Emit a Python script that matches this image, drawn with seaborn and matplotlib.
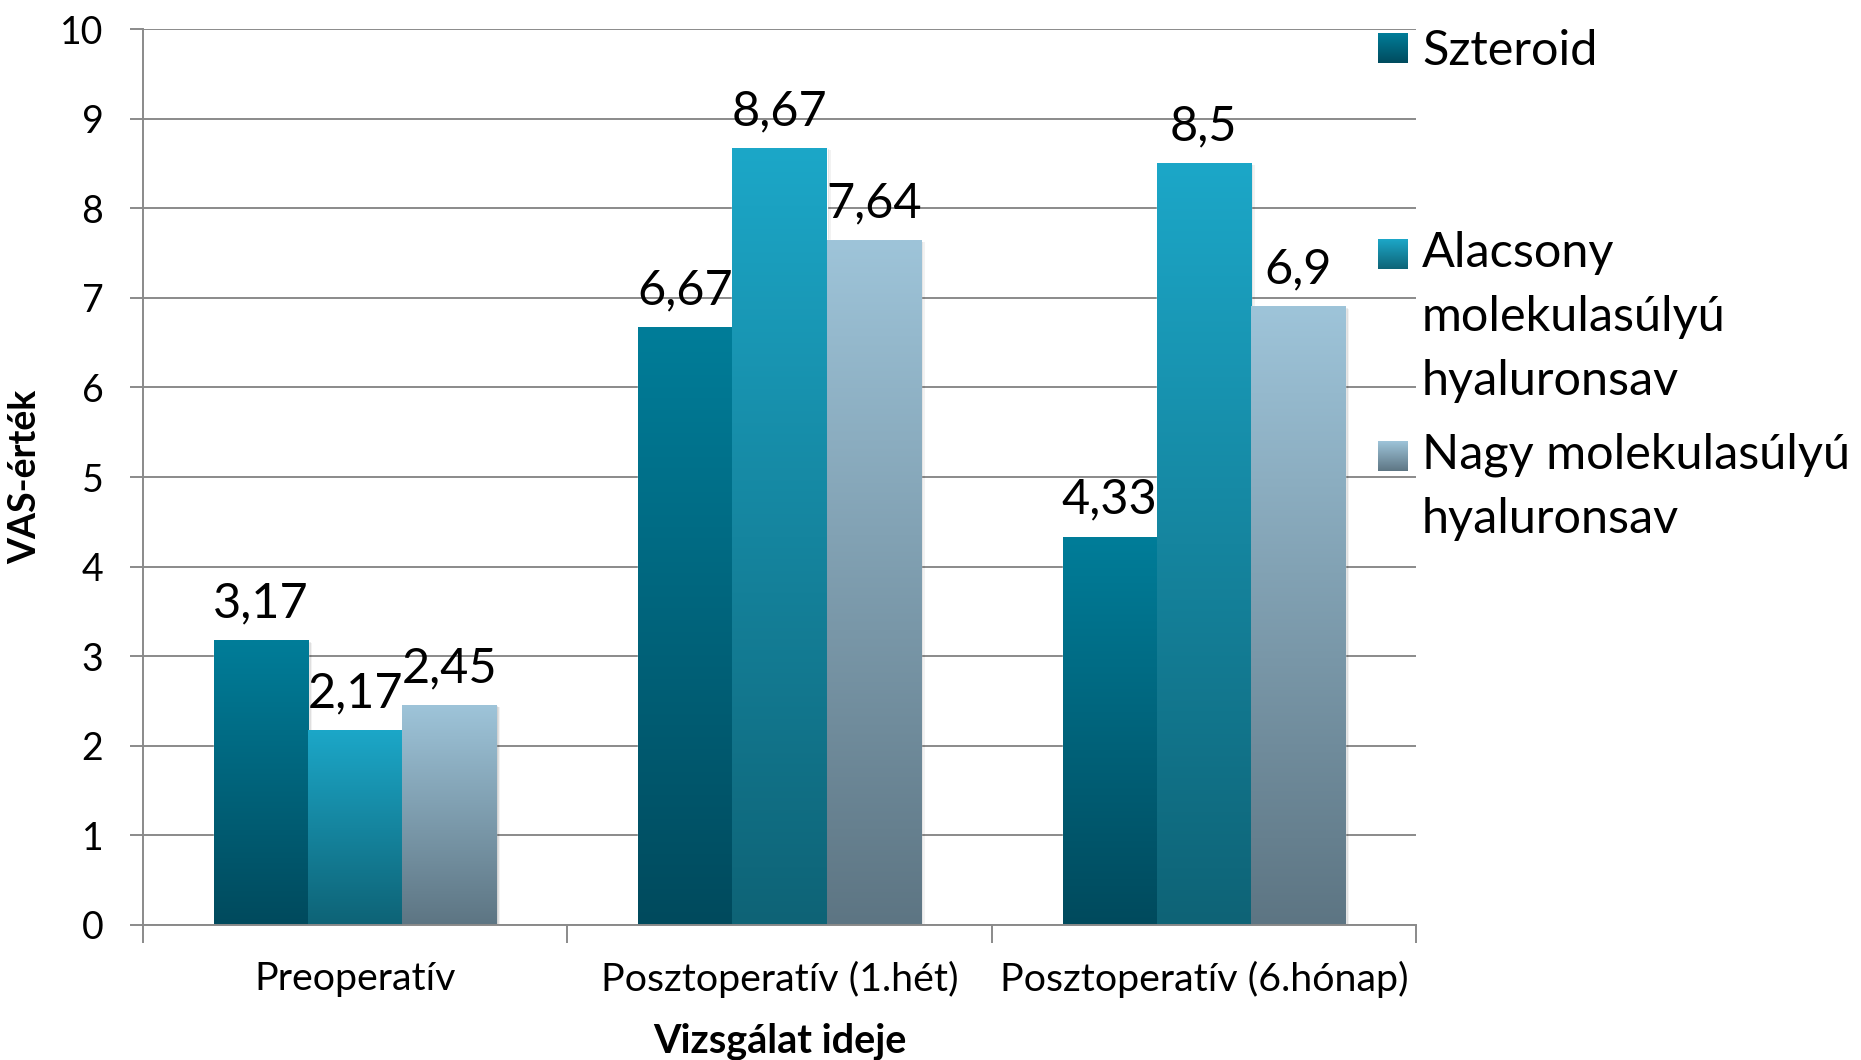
import numpy as np
import pandas as pd
import matplotlib
matplotlib.use("Agg")
import matplotlib.pyplot as plt
import seaborn as sns
from matplotlib.colors import to_rgb
from matplotlib.legend_handler import HandlerBase
from matplotlib.patches import Rectangle, Patch
from matplotlib.transforms import offset_copy

# --- data -------------------------------------------------------------
categories = ["Preoperatív", "Posztoperatív (1.hét)", "Posztoperatív (6.hónap)"]
groups = ["Szteroid", "Alacsony molekulasúlyú hyaluronsav", "Nagy molekulasúlyú hyaluronsav"]
legend_labels = ["Szteroid", "Alacsony\nmolekulasúlyú\nhyaluronsav", "Nagy molekulasúlyú\nhyaluronsav"]
szteroid = [3.17, 6.67, 4.33]
alacsony = [2.17, 8.67, 8.5]
nagy = [2.45, 7.64, 6.9]
yticks = list(range(0, 11))

# top / bottom colours of each series' vertical gradient
shade_top = ["#007d99", "#1ca7c8", "#9ec4d9"]
shade_bottom = ["#004a5d", "#0e6376", "#5d7583"]
shade_mid = ["#00637a", "#16859f", "#7d9cae"]

df = pd.DataFrame({
    "ido": categories * 3,
    "vas": szteroid + alacsony + nagy,
    "csoport": [g for g in groups for _ in categories],
})

sns.set_theme(style="white")
plt.rcParams["font.family"] = ["Lato", "DejaVu Sans"]

fig = plt.figure(figsize=(18.61, 10.60), dpi=100)
ax = fig.add_axes([0.0768, 0.1274, 0.6841, 0.8452])

sns.barplot(data=df, x="ido", y="vas", hue="csoport", order=categories,
            hue_order=groups, palette=shade_mid, saturation=1, width=0.666,
            gap=0, errorbar=None, legend=False, ax=ax)


def gradient(top, bottom, n=256):
    t = np.linspace(0, 1, n)[:, None, None]
    return np.array(to_rgb(bottom)) * (1 - t) + np.array(to_rgb(top)) * t


# paint each bar with a bottom-to-top gradient and a soft shadow
for container, top, bottom in zip(ax.containers, shade_top, shade_bottom):
    img = gradient(top, bottom)
    for bar in container:
        x0, w, h = bar.get_x(), bar.get_width(), bar.get_height()
        bar.set_zorder(1.9)
        for dx, alpha in [(4, 0.05), (2.5, 0.08), (1.2, 0.10)]:
            ax.add_patch(Rectangle((x0, 0), w, h, facecolor="black",
                                   edgecolor="none", alpha=alpha, zorder=1.8,
                                   transform=offset_copy(ax.transData, fig=fig,
                                                         x=dx, y=-dx * 0.5,
                                                         units="dots")))
        ax.imshow(img, extent=[x0, x0 + w, 0, h], origin="lower",
                  aspect="auto", zorder=2, interpolation="bilinear")

for container, vals in zip(ax.containers, [szteroid, alacsony, nagy]):
    ax.bar_label(container, labels=[f"{v:g}".replace(".", ",") for v in vals],
                 padding=11, fontsize=35, color="black", zorder=5)

ax.set_aspect("auto")
ax.set_xlim(-0.5, 2.5)
ax.set_ylim(0, 10)

grid_c = "#8a8a8a"
ax.set_yticks(yticks)
ax.yaxis.grid(True, color=grid_c, lw=1.4)
ax.xaxis.grid(False)
ax.set_axisbelow(True)
for side in ["top", "right"]:
    ax.spines[side].set_visible(False)
for side in ["left", "bottom"]:
    ax.spines[side].set_color(grid_c)
    ax.spines[side].set_linewidth(1.4)

ax.tick_params(axis="y", left=True, length=9.4, width=1.4, color=grid_c,
               pad=19, labelsize=27, labelcolor="black")
ax.set_xticks([0, 1, 2], categories)
ax.set_xticks([-0.5, 0.5, 1.5, 2.5], minor=True)
ax.tick_params(axis="x", which="major", bottom=False, length=0, pad=26,
               labelsize=28.4, labelcolor="black")
ax.tick_params(axis="x", which="minor", bottom=True, length=13, width=1.4,
               color=grid_c)

ax.set_ylabel("VAS-érték", fontsize=27, fontweight="bold", color="black")
ax.yaxis.set_label_coords(-0.079, 0.5)
ax.set_xlabel("Vizsgálat ideje", fontsize=28.5, fontweight="bold", color="black")
ax.xaxis.set_label_coords(0.5, -0.1295)
ax.xaxis.label.set_va("center")


# --- legend with gradient swatches aligned to the first text line --------
LEG_FS = 35
LINE_SPACING = 1.56
PITCH_PT = 46.0


class GradientSwatch(HandlerBase):
    def __init__(self, top, bottom, nlines):
        super().__init__()
        self.top, self.bottom, self.nlines = top, bottom, nlines

    def create_artists(self, legend, orig_handle, xdescent, ydescent,
                       width, height, fontsize, trans):
        size = width
        shift = (self.nlines - 1) / 2 * PITCH_PT
        y0 = -ydescent + (height - size) / 2 + shift
        steps = 30
        top, bottom = np.array(to_rgb(self.top)), np.array(to_rgb(self.bottom))
        arts = []
        for i in range(steps):
            f = (i + 0.5) / steps
            c = bottom * (1 - f) + top * f
            arts.append(Rectangle((-xdescent, y0 + i * size / steps), size,
                                  size / steps * 1.05, facecolor=c,
                                  edgecolor="none", transform=trans))
        return arts


handles = [Patch(facecolor=c) for c in shade_mid]
hmap = {h: GradientSwatch(t, b, lbl.count("\n") + 1)
        for h, t, b, lbl in zip(handles, shade_top, shade_bottom, legend_labels)}

common = dict(loc="upper left", bbox_transform=fig.transFigure, frameon=False,
              borderpad=0, borderaxespad=0, handlelength=21.6 / LEG_FS,
              handletextpad=10 / LEG_FS, fontsize=LEG_FS, handler_map=hmap)

leg1 = ax.legend(handles=handles[:1], labels=legend_labels[:1],
                 bbox_to_anchor=(1378 / 1861, 1 - 29 / 1060), **common)
ax.add_artist(leg1)
leg2 = ax.legend(handles=handles[1:], labels=legend_labels[1:],
                 bbox_to_anchor=(1378 / 1861, 1 - 231 / 1060),
                 labelspacing=0.6, **common)
for leg in (leg1, leg2):
    for t in leg.get_texts():
        t.set_linespacing(LINE_SPACING)
        t.set_color("black")

fig.savefig("out.png", dpi=100)
